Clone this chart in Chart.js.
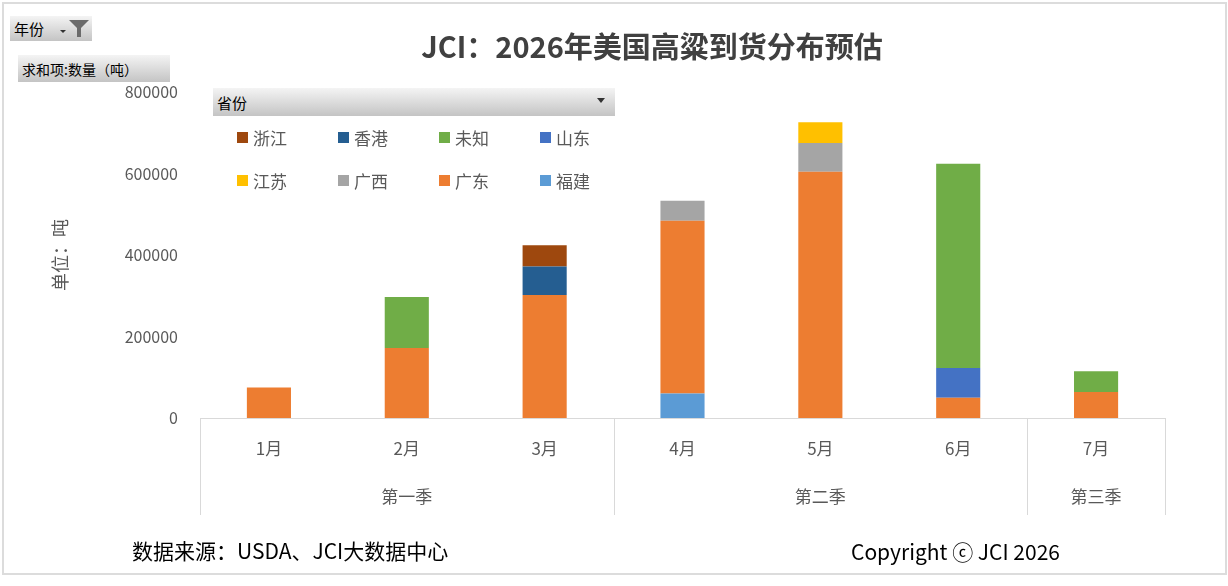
<!DOCTYPE html>
<html>
<head>
<meta charset="utf-8">
<script src="https://cdn.jsdelivr.net/npm/chart.js@4"></script>
<style>
  body { margin: 0; background: #fff; font-family: "Noto Sans CJK SC", "Noto Sans", sans-serif; }
  #wrap { position: relative; width: 1228px; height: 586px; overflow: hidden; }
  #frame { position: absolute; left: 2px; top: 2px; width: 1221px; height: 569px; border: 2px solid #dcdcdc; }
  canvas { position: absolute; left: 0; top: 0; }
  .btn {
    position: absolute; box-sizing: border-box; color: #000;
    background: linear-gradient(#f4f4f4, #c4c4c4);
    font-size: 14px; line-height: 1; display: flex; align-items: center; padding-left: 4px;
  }
  .arrow { position: absolute; right: 10px; top: 10px; width: 0; height: 0;
    border-left: 4px solid transparent; border-right: 4px solid transparent; border-top: 5px solid #333; }
  #title { position: absolute; left: 352px; width: 600px; top: 25px; text-align: center;
    font-size: 29px; font-weight: bold; color: #404040; line-height: 40px; }
  #legend { position: absolute; left: 237px; top: 124px; display: grid;
    grid-template-columns: repeat(4, 101px); row-gap: 17px; }
  .item { display: flex; align-items: center; font-size: 17px; color: #595959; height: 26px; }
  .sw { width: 11px; height: 11px; margin-right: 5px; }
  .foot { position: absolute; font-size: 21px; color: #000; line-height: 30px; }
</style>
</head>
<body>
<div id="wrap">
  <div id="frame"></div>
  <canvas id="c" width="1228" height="586"></canvas>
  <div id="title">JCI：2026年美国高粱到货分布预估</div>
  <div class="btn" style="left:10px;top:16px;width:82px;height:25px;font-size:15px;">年份
    <span style="position:absolute;left:50px;top:14px;width:0;height:0;border-left:3px solid transparent;border-right:3px solid transparent;border-top:3px solid #333;"></span>
    <svg style="position:absolute;left:58px;top:3px" width="22" height="19" viewBox="0 0 22 19"><path d="M1 1 H21 L13 9 V18 H9 V9 Z" fill="#6b6b6b"/></svg>
  </div>
  <div class="btn" style="left:18px;top:55px;width:152px;height:27px;">求和项:数量（吨）</div>
  <div class="btn" style="left:213px;top:88px;width:402px;height:28px;font-size:15px;">省份<span class="arrow"></span></div>
  <div id="legend"></div>
  <div class="foot" style="left:132px;top:535px;">数据来源：USDA、JCI大数据中心</div>
  <div class="foot" style="left:851px;top:536px;">Copyright ⓒ JCI 2026</div>
</div>
<script>
const months = ['1月', '2月', '3月', '4月', '5月', '6月', '7月'];
const quarters = ['第一季', '第二季', '第三季'];
const quarterSpan = [3, 3, 1];

// stacked bottom to top
const fujian   = [0, 0, 0, 60000, 0, 0, 0];
const guangdong = [75000, 172000, 302000, 424000, 604000, 50000, 64000];
const guangxi  = [0, 0, 0, 49000, 71000, 0, 0];
const jiangsu  = [0, 0, 0, 0, 51000, 0, 0];
const shandong = [0, 0, 0, 0, 0, 73000, 0];
const weizhi   = [0, 125000, 0, 0, 0, 501000, 51000];
const xianggang = [0, 0, 70000, 0, 0, 0, 0];
const zhejiang = [0, 0, 52000, 0, 0, 0, 0];

const yTicks = [0, 200000, 400000, 600000, 800000];

const series = [
  { label: '福建', data: fujian, color: '#5B9BD5' },
  { label: '广东', data: guangdong, color: '#ED7D31' },
  { label: '广西', data: guangxi, color: '#A5A5A5' },
  { label: '江苏', data: jiangsu, color: '#FFC000' },
  { label: '山东', data: shandong, color: '#4472C4' },
  { label: '未知', data: weizhi, color: '#70AD47' },
  { label: '香港', data: xianggang, color: '#255E91' },
  { label: '浙江', data: zhejiang, color: '#9E480E' }
];

// legend lists the top series first, like Excel
const legendEl = document.getElementById('legend');
series.slice().reverse().forEach(s => {
  const d = document.createElement('div');
  d.className = 'item';
  d.innerHTML = `<span class="sw" style="background:${s.color}"></span>${s.label}`;
  legendEl.appendChild(d);
});

const font = "'Noto Sans CJK SC', 'Noto Sans', sans-serif";

const quarterAxis = {
  id: 'quarterAxis',
  afterDraw(chart) {
    const { ctx, chartArea, scales } = chart;
    const x = scales.x;
    const step = (x.right - x.left) / months.length;
    const top = chartArea.bottom, bottom = chartArea.bottom + 97;
    ctx.save();
    ctx.strokeStyle = '#d9d9d9';
    ctx.lineWidth = 1;
    ctx.fillStyle = '#595959';
    ctx.font = `17px ${font}`;
    ctx.textAlign = 'center';
    ctx.textBaseline = 'middle';
    let start = 0;
    const edges = [x.left];
    quarters.forEach((q, i) => {
      const end = start + quarterSpan[i] - 1;
      const l = x.getPixelForValue(start) - step / 2;
      const r = x.getPixelForValue(end) + step / 2;
      edges.push(r);
      ctx.fillText(q, (l + r) / 2, chartArea.bottom + 79);
      start = end + 1;
    });
    edges.forEach(e => {
      const px = Math.round(e) + 0.5;
      ctx.beginPath();
      ctx.moveTo(px, top);
      ctx.lineTo(px, bottom);
      ctx.stroke();
    });
    ctx.restore();
  }
};

new Chart(document.getElementById('c'), {
  type: 'bar',
  data: {
    labels: months,
    datasets: series.map(s => ({
      label: s.label,
      data: s.data,
      backgroundColor: s.color,
      borderWidth: 0,
      barPercentage: 0.32,
      categoryPercentage: 1
    }))
  },
  options: {
    responsive: false,
    animation: false,
    layout: { padding: { left: 0, right: 63, top: 92, bottom: 68 } },
    plugins: {
      legend: { display: false },
      tooltip: { enabled: false }
    },
    scales: {
      x: {
        stacked: true,
        grid: { display: false, drawTicks: false },
        border: { display: true, color: '#d9d9d9', width: 1 },
        ticks: { color: '#595959', font: { family: font, size: 17 }, padding: 20, maxRotation: 0 },
        afterFit: s => { s.height = 100; }
      },
      y: {
        stacked: true,
        min: 0,
        max: 800000,
        afterBuildTicks: s => { s.ticks = yTicks.map(v => ({ value: v })); },
        grid: { display: false, drawTicks: false },
        border: { display: false },
        ticks: {
          color: '#595959',
          font: { family: font, size: 16 },
          padding: 22,
          callback: v => String(v)
        },
        title: {
          display: true,
          text: '单位：吨',
          color: '#595959',
          font: { family: font, size: 18 },
          padding: { top: 49 }
        },
        afterFit: s => { s.width = 200; }
      }
    }
  },
  plugins: [quarterAxis]
});
</script>
</body>
</html>
